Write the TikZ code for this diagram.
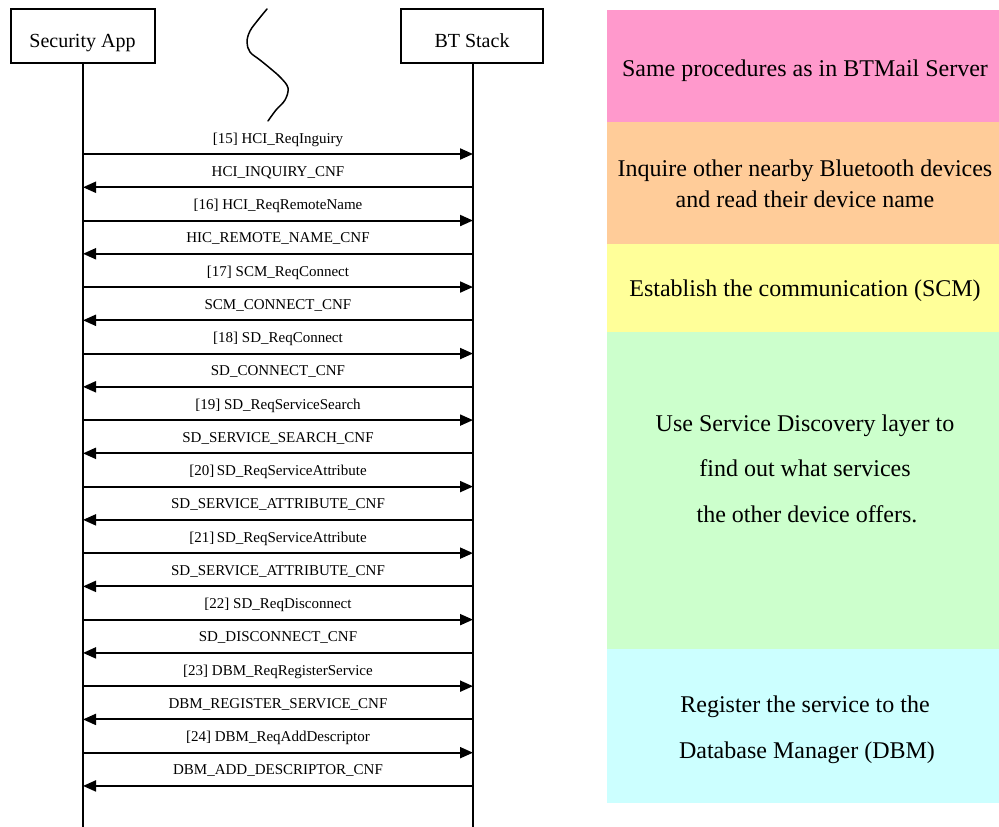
\documentclass[tikz,border=0pt]{standalone}
\usepackage{fontspec}
\setmainfont{Liberation Serif}
\usetikzlibrary{arrows.meta}
\definecolor{panelpink}{HTML}{FF99CC}
\definecolor{panelorange}{HTML}{FFCC99}
\definecolor{panelyellow}{HTML}{FFFF99}
\definecolor{panelgreen}{HTML}{CCFFCC}
\definecolor{panelcyan}{HTML}{CCFFFF}
\begin{document}
\begin{tikzpicture}[x=1pt,y=-1pt,
  actor/.style={draw,line width=2pt,minimum height=54pt,inner sep=0pt,
    text height=22pt,text depth=0pt,font=\fontsize{20}{24}\selectfont},
  life/.style={line width=2pt},
  msg/.style={line width=2pt,-{Triangle[length=13pt,width=11pt]}},
  lbl/.style={anchor=base,inner sep=0pt,font=\fontsize{15}{18}\selectfont},
  note/.style={anchor=base,inner sep=0pt,font=\fontsize{24}{28}\selectfont}]
\useasboundingbox (0,0) rectangle (999,827);

% coloured phase panels
\fill[panelpink]   (607,10)  rectangle (999,122);
\fill[panelorange] (607,122) rectangle (999,244);
\fill[panelyellow] (607,244) rectangle (999,332);
\fill[panelgreen]  (607,332) rectangle (999,649);
\fill[panelcyan]   (607,649) rectangle (999,803);

\node[note] (p1)  at (805,76)  {Same procedures as in BTMail Server};
\node[note] (p2a) at (805,176) {Inquire other nearby Bluetooth devices};
\node[note] (p2b) at (805,207) {and read their device name};
\node[note] (p3)  at (805,296) {Establish the communication (SCM)};
\node[note] (p4a) at (805,431) {Use Service Discovery layer to};
\node[note] (p4b) at (805,476) {find out what services};
\node[note] (p4c) at (807,522) {the other device offers.};
\node[note] (p5a) at (805,712) {Register the service to the};
\node[note] (p5b) at (807,758) {Database Manager (DBM)};

% participants and lifelines
\node[actor,minimum width=144pt] (sa) at (82.5,36)  {Security App};
\node[actor,minimum width=142pt] (bt) at (472,36) {BT Stack};
\coordinate (satop) at (83,63);
\coordinate (bttop) at (473,63);
\coordinate (saend) at (83,827);
\coordinate (btend) at (473,827);
\draw[life] (satop) -- (saend);
\draw[life] (bttop) -- (btend);

% break mark
\draw[line width=1.5pt,line cap=round,line join=round]
  plot[smooth,tension=0.6] coordinates {(267,9) (258,20) (250,31) (247,42)
  (250,52) (260,60) (271,69) (281,78) (288,88) (285,100) (276,110) (268,121)};

% messages
\foreach \k/\txt in {
  0/{[15] HCI\_ReqInguiry},
  1/{HCI\_INQUIRY\_CNF},
  2/{[16] HCI\_ReqRemoteName},
  3/{HIC\_REMOTE\_NAME\_CNF},
  4/{[17] SCM\_ReqConnect},
  5/{SCM\_CONNECT\_CNF},
  6/{[18] SD\_ReqConnect},
  7/{SD\_CONNECT\_CNF},
  8/{[19] SD\_ReqServiceSearch},
  9/{SD\_SERVICE\_SEARCH\_CNF},
  10/{[20]\,SD\_ReqServiceAttribute},
  11/{SD\_SERVICE\_ATTRIBUTE\_CNF},
  12/{[21]\,SD\_ReqServiceAttribute},
  13/{SD\_SERVICE\_ATTRIBUTE\_CNF},
  14/{[22] SD\_ReqDisconnect},
  15/{SD\_DISCONNECT\_CNF},
  16/{[23] DBM\_ReqRegisterService},
  17/{DBM\_REGISTER\_SERVICE\_CNF},
  18/{[24] DBM\_ReqAddDescriptor},
  19/{DBM\_ADD\_DESCRIPTOR\_CNF}}{
  \pgfmathsetmacro\yy{154+33.26*\k}
  \coordinate (L\k) at (83,\yy);
  \coordinate (R\k) at (473,\yy);
  \ifodd\k
    \draw[msg] (R\k) -- (L\k);
  \else
    \draw[msg] (L\k) -- (R\k);
  \fi
  \node[lbl] (m\k) at (278,\yy-11) {\txt};
}
\end{tikzpicture}
\end{document}
